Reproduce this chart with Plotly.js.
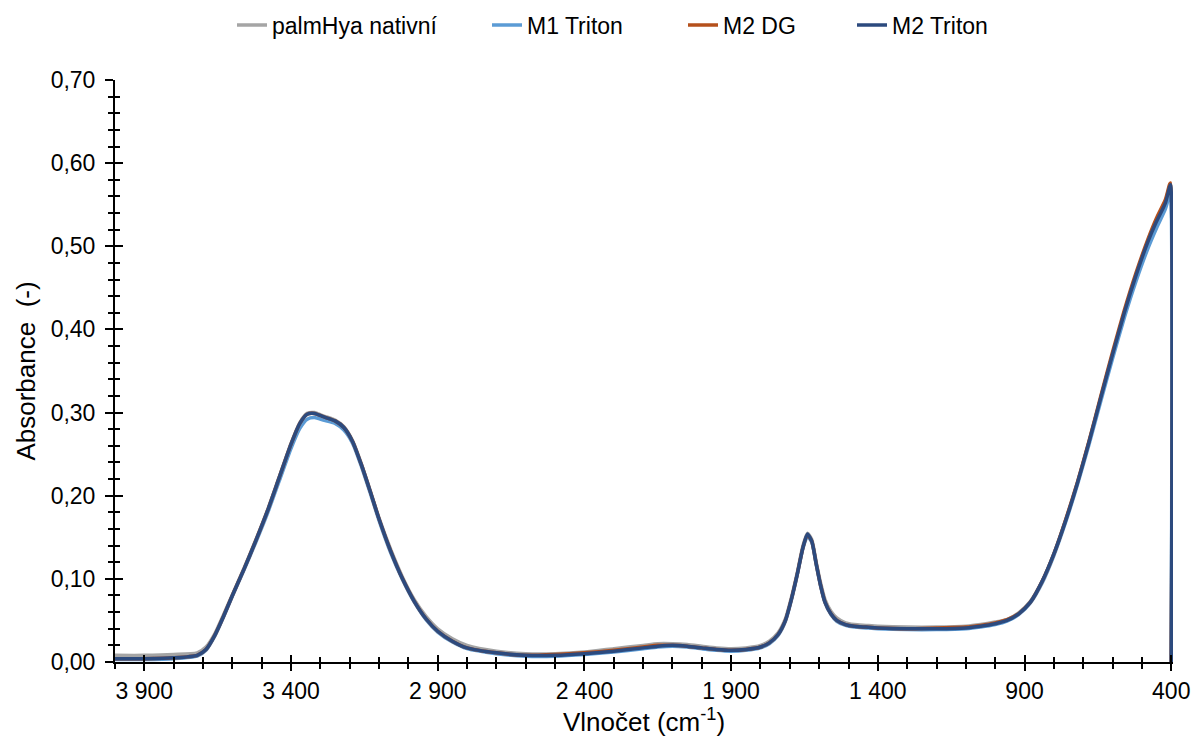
<!DOCTYPE html>
<html>
<head>
<meta charset="utf-8">
<script src="https://cdn.plot.ly/plotly-3.0.1.min.js"></script>
<style>html,body{margin:0;padding:0;background:#fff;}#chart{width:1194px;height:742px;}</style>
</head>
<body>
<div id="chart"></div>
<script>
const wavenumber = [4000,3900,3800,3720,3690,3660,3630,3600,3560,3520,
  3480,3440,3400,3370,3345,3320,3290,3250,3220,3190,
  3160,3130,3100,3060,3020,2980,2940,2900,2850,2800,
  2700,2600,2500,2400,2300,2200,2150,2100,2050,2000,
  1950,1900,1850,1800,1770,1740,1715,1695,1675,1655,
  1640,1625,1610,1595,1580,1560,1540,1510,1480,1440,
  1400,1300,1200,1100,1050,1000,960,920,880,840,
  800,760,720,680,640,600,560,520,480,450,
  420,405,402,400];

const palmHyaNativni = [0.008,0.008,0.009,0.011,0.018,0.034,0.057,0.081,0.113,0.147,
  0.183,0.223,0.263,0.288,0.299,0.300,0.296,0.291,0.283,0.266,
  0.238,0.206,0.173,0.135,0.102,0.075,0.055,0.040,0.028,0.020,
  0.013,0.010,0.010,0.012,0.016,0.020,0.022,0.022,0.021,0.019,
  0.017,0.016,0.017,0.020,0.025,0.035,0.052,0.077,0.107,0.140,
  0.155,0.147,0.120,0.095,0.075,0.061,0.053,0.047,0.045,0.044,
  0.043,0.042,0.042,0.043,0.045,0.048,0.051,0.059,0.073,0.097,
  0.130,0.170,0.215,0.265,0.318,0.370,0.420,0.466,0.506,0.532,
  0.554,0.573,0.575,0.0];

const m1Triton = [0.003,0.003,0.004,0.007,0.014,0.031,0.054,0.079,0.111,0.144,
  0.179,0.218,0.257,0.281,0.292,0.294,0.291,0.287,0.279,0.263,
  0.235,0.203,0.170,0.131,0.099,0.072,0.051,0.036,0.024,0.016,
  0.010,0.007,0.007,0.009,0.012,0.016,0.018,0.019,0.018,0.016,
  0.014,0.013,0.014,0.017,0.022,0.032,0.049,0.074,0.104,0.137,
  0.151,0.144,0.117,0.091,0.071,0.057,0.049,0.044,0.042,0.041,
  0.040,0.039,0.039,0.040,0.042,0.045,0.049,0.057,0.071,0.095,
  0.128,0.168,0.213,0.262,0.314,0.365,0.414,0.458,0.497,0.522,
  0.545,0.563,0.566,0.0];

const m2DG = [0.004,0.004,0.005,0.008,0.015,0.032,0.055,0.080,0.112,0.146,
  0.182,0.222,0.262,0.287,0.298,0.299,0.295,0.290,0.282,0.265,
  0.237,0.205,0.172,0.133,0.100,0.073,0.052,0.037,0.025,0.017,
  0.011,0.008,0.009,0.011,0.014,0.018,0.020,0.020,0.019,0.017,
  0.015,0.014,0.015,0.018,0.023,0.033,0.050,0.075,0.105,0.138,
  0.153,0.145,0.118,0.092,0.072,0.058,0.050,0.045,0.043,0.042,
  0.041,0.040,0.041,0.042,0.044,0.047,0.051,0.058,0.072,0.097,
  0.130,0.171,0.216,0.266,0.320,0.373,0.423,0.468,0.508,0.534,
  0.556,0.575,0.576,0.0];

const m2Triton = [0.004,0.004,0.005,0.008,0.015,0.032,0.055,0.080,0.112,0.146,
  0.182,0.222,0.262,0.287,0.298,0.299,0.295,0.290,0.282,0.265,
  0.237,0.205,0.172,0.133,0.100,0.073,0.052,0.037,0.025,0.017,
  0.011,0.008,0.008,0.010,0.013,0.017,0.019,0.020,0.019,0.017,
  0.015,0.014,0.015,0.018,0.023,0.033,0.050,0.075,0.105,0.138,
  0.154,0.145,0.118,0.092,0.072,0.058,0.050,0.045,0.043,0.042,
  0.041,0.040,0.040,0.041,0.043,0.046,0.050,0.058,0.072,0.097,
  0.130,0.170,0.215,0.265,0.318,0.370,0.420,0.465,0.505,0.530,
  0.552,0.572,0.574,0.0];

const seriesNames = ['palmHya nativní','M1 Triton','M2 DG','M2 Triton'];
const seriesValues = [palmHyaNativni, m1Triton, m2DG, m2Triton];
const seriesColors = ['#A5A5A5','#5B9BD5','#B5501C','#2C4A7E'];
const legendIds = ['legend','legend2','legend3','legend4'];
const legendX = [232, 487, 683, 852];

const FONT = 'Liberation Sans, Arial, Helvetica, sans-serif';

const traces = seriesNames.map((name, i) => ({
  type: 'scatter', mode: 'lines', name: name, legend: legendIds[i],
  x: wavenumber, y: seriesValues[i],
  line: {color: seriesColors[i], width: 3.5, shape: 'spline', smoothing: 0.6},
  hoverinfo: 'x+y+name'
}));
// helper trace so the overlay axes (inward half of crossing ticks) are drawn
traces.push({type:'scatter', mode:'lines', x:[wavenumber[0]], y:[0], xaxis:'x2', yaxis:'y2',
  showlegend:false, hoverinfo:'skip', line:{color:'rgba(0,0,0,0)'}});

const xCommon = {range:[4000,394], tick0:400, dtick:500, linecolor:'#000', linewidth:2,
  tickcolor:'#000', tickwidth:2, showgrid:false, zeroline:false};
const yCommon = {range:[0,0.70], tick0:0, dtick:0.1, linecolor:'#000', linewidth:2,
  tickcolor:'#000', tickwidth:2, showgrid:false, zeroline:false};

const layout = {
  width:1194, height:742,
  margin:{l:115, r:21, t:80, b:80, autoexpand:false},
  paper_bgcolor:'#fff', plot_bgcolor:'#fff',
  separators:', ',
  font:{family:FONT, color:'#000', size:22},
  showlegend:true,
  xaxis: Object.assign({}, xCommon, {
    ticks:'outside', ticklen:7, showline:true, tickformat:',d', automargin:true,
    tickfont:{family:FONT, size:23, color:'#000'},
    ticklabelstandoff:0,
    minor:{dtick:100, tick0:400, ticks:'outside', ticklen:5, tickcolor:'#000', tickwidth:2},
    title:{text:'Vlnočet (cm<sup>-1</sup>)', font:{family:FONT, size:26, color:'#000'}, standoff:8}
  }),
  yaxis: Object.assign({}, yCommon, {
    ticks:'outside', ticklen:8, showline:true, tickformat:'.2f',
    tickfont:{family:FONT, size:23, color:'#000'},
    ticklabelstandoff:5,
    minor:{dtick:0.02, tick0:0, ticks:'outside', ticklen:5, tickcolor:'#000', tickwidth:2},
    title:{text:'Absorbance \u00a0(-)', font:{family:FONT, size:26, color:'#000'}, standoff:8}
  }),
  xaxis2: Object.assign({}, xCommon, {
    overlaying:'x', anchor:'y2', side:'bottom', ticks:'inside', ticklen:7, showline:false,
    showticklabels:false,
    minor:{dtick:100, tick0:400, ticks:'inside', ticklen:5, tickcolor:'#000', tickwidth:2}
  }),
  yaxis2: Object.assign({}, yCommon, {
    overlaying:'y', anchor:'x2', side:'left', ticks:'inside', ticklen:8, showline:false,
    showticklabels:false,
    minor:{dtick:0.02, tick0:0, ticks:'inside', ticklen:5, tickcolor:'#000', tickwidth:2}
  })
};
legendIds.forEach((id, i) => {
  layout[id] = {orientation:'h', xref:'container', yref:'container',
    x: legendX[i] / 1194, xanchor:'left', y: 1 - 25 / 742, yanchor:'middle',
    font:{family:FONT, size:23, color:'#000'}, bgcolor:'rgba(0,0,0,0)', borderwidth:0};
});

Plotly.newPlot('chart', traces, layout, {displayModeBar:false, staticPlot:true});
</script>
</body>
</html>
